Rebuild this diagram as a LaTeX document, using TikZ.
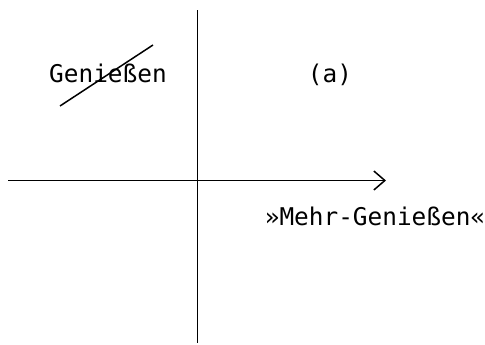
\documentclass[tikz,border=0pt]{standalone}
\usepackage{fontspec}
\setmonofont{DejaVu Sans Mono}
\usetikzlibrary{arrows.meta}

\begin{document}
\begin{tikzpicture}[x=1pt,y=1pt,
		lbl/.style={font=\ttfamily\fontsize{24.4}{28}\selectfont,anchor=base,inner sep=0pt},
		axis/.style={line width=1.5pt}]
			\useasboundingbox (0,0) rectangle (485,345);
			\coordinate (xl) at (8,164.5);
			\coordinate (xr) at (386,164.5);
			\coordinate (yb) at (197.5,2);
			\coordinate (yt) at (197.5,335);
			\draw[axis,-{Straight Barb[length=11pt,width=19pt,line width=1.5pt]}] (xl) -- (xr);
			\draw[axis] (yb) -- (yt);
			\node[lbl] (gen) at (108,262) {Genießen};
			\node[lbl] (a) at (330,262) {(a)};
			\node[lbl] (mehr) at (375,119) {»Mehr-Genießen«};
			\coordinate (s1) at (60,239);
			\coordinate (s2) at (153,300);
			\draw[line width=1.5pt] (s1) -- (s2);
		\end{tikzpicture}
\end{document}
